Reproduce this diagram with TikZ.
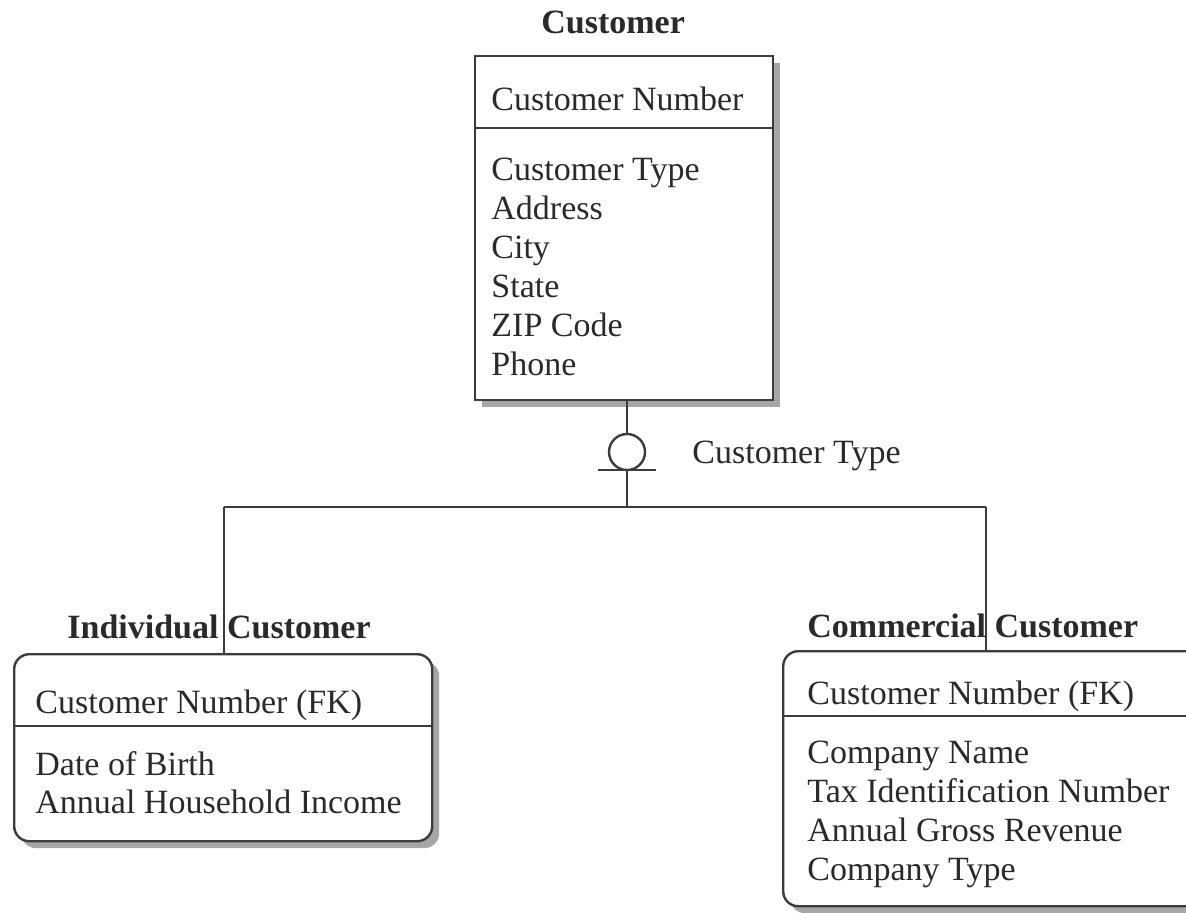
\documentclass[tikz,border=0pt]{standalone}
\usepackage{fontspec}
\setmainfont{Liberation Serif}
\usetikzlibrary{shadows}
\definecolor{ln}{HTML}{3C3C3C}
\definecolor{tx}{HTML}{2A2A2A}
\begin{document}
\begin{tikzpicture}[x=0.5pt,y=-0.5pt,
  ent/.style={draw=ln,line width=1.2pt,fill=white,anchor=north west,inner sep=0pt,
    drop shadow={shadow xshift=3.5pt,shadow yshift=-3.5pt,fill=black!35,opacity=1}},
  rent/.style={ent,rounded corners=7.5pt},
  attr/.style={anchor=base west,inner sep=0pt,text=tx,font=\fontsize{17}{19.5}\selectfont},
  ttl/.style={attr,font=\fontsize{17}{19.5}\selectfont\bfseries},
  conn/.style={draw=ln,line width=1.2pt},
  disc/.style={circle,draw=ln,line width=1.2pt,fill=white,minimum size=18pt,inner sep=0pt}]
\useasboundingbox (0,0) rectangle (1186,912);
\clip (0,0) rectangle (1186,912);
\fill[white] (0,0) rectangle (1186,912);

% Customer
\node[ttl] (tcust) at (541,33) {Customer};
\node[ent,minimum width=149pt,minimum height=172pt] (cust) at (474,55) {};
\draw[conn] (474,128) -- (772,128);
\node[attr] (c0) at (491,110) {Customer Number};
\foreach \t [count=\i] in {Customer Type,Address,City,State,ZIP Code,Phone}
  \node[attr] (c\i) at (491,{180+39*(\i-1)}) {\t};

% Individual Customer
\node[rent,minimum width=209pt,minimum height=93.5pt] (ind) at (13,653) {};
\draw[conn] (13,726) -- (432,726);
\node[attr] (i0) at (35,713) {Customer Number (FK)};
\node[attr] (i1) at (35,775) {Date of Birth};
\node[attr] (i2) at (35,813) {Annual Household Income};

% Commercial Customer
\node[rent,minimum width=215pt,minimum height=127.5pt] (com) at (782,650) {};
\draw[conn] (782,716) -- (1210,716);
\node[attr] (m0) at (807,704) {Customer Number (FK)};
\foreach \t [count=\i] in {Company Name,Tax Identification Number,Annual Gross Revenue,Company Type}
  \node[attr] (m\i) at (807,{763+39.3*(\i-1)}) {\t};

% Category symbol
\node[disc] (cat) at (627,452) {};
\coordinate (barL) at (598,470);
\coordinate (barR) at (656,470);
\coordinate (junc) at (627,507);
\coordinate (hl) at (224,507);
\coordinate (hr) at (986,507);
\draw[conn] (cust.south -| cat) -- (cat.north);
\draw[conn] (barL) -- (barR);
\draw[conn] (cat.south) -- (junc);
\draw[conn] (hl) -- (hr);
\draw[conn] (hl) -- (ind.north -| hl);
\draw[conn] (hr) -- (com.north -| hr);
\node[attr] (lcat) at (692,463) {Customer Type};

% Subtype titles
\node[ttl] (tind) at (67,638) {Individual Customer};
\node[ttl] (tcom) at (807,637) {Commercial Customer};
\end{tikzpicture}
\end{document}
